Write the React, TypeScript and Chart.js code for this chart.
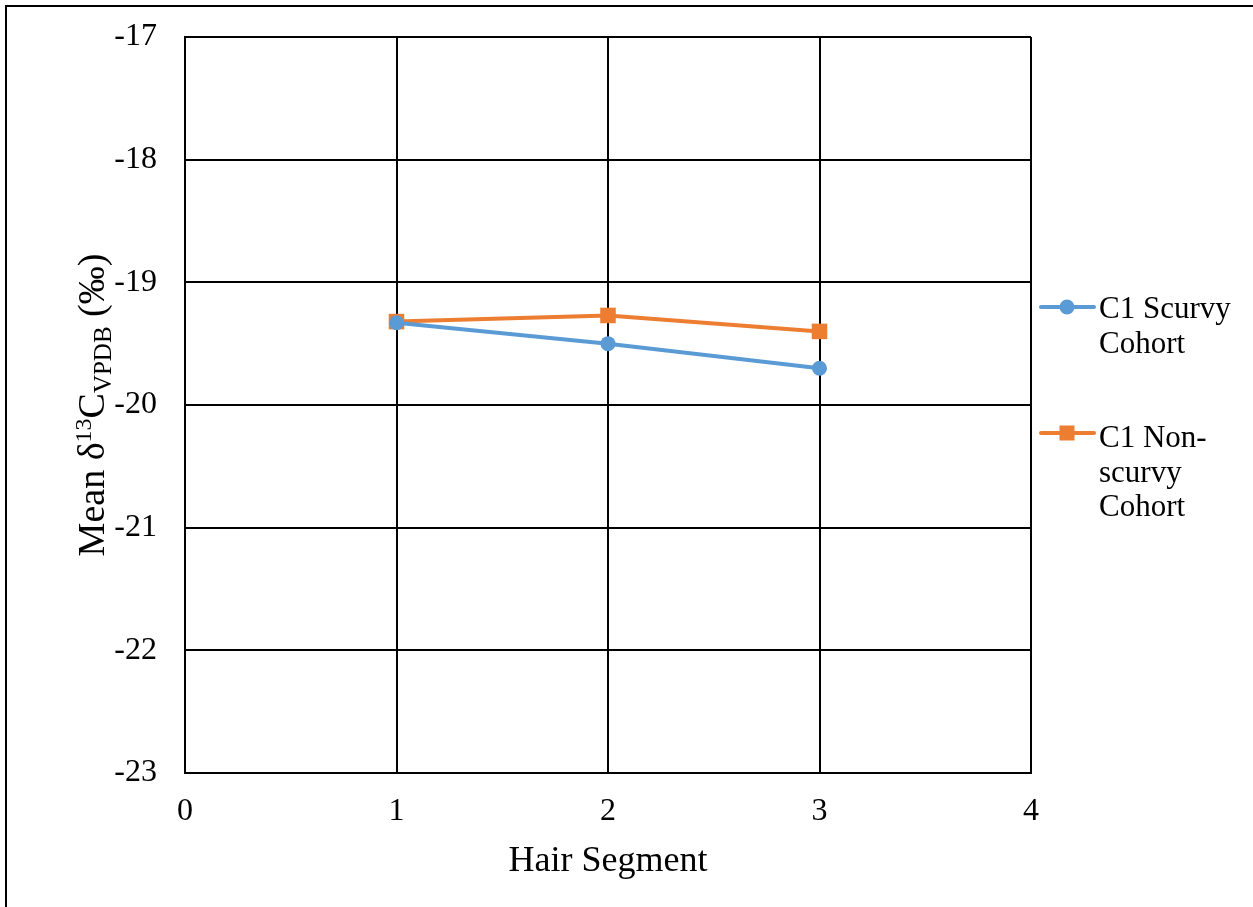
import React, { useEffect, useRef } from "react";
import { Chart, registerables } from "chart.js";

Chart.register(...registerables);

// Hair segment positions and mean δ13C values (‰) for each cohort
const segments = [1, 2, 3];
const scurvyValues = [-19.33, -19.5, -19.7];
const nonScurvyValues = [-19.32, -19.27, -19.4];

const seriesNames = ["C1 Scurvy Cohort", "C1 Non-scurvy Cohort"];
const legendLines = [["C1 Scurvy", "Cohort"], ["C1 Non-", "scurvy", "Cohort"]];
const xTitle = "Hair Segment";

const BLUE = "#5B9BD5";
const ORANGE = "#ED7D31";
const SERIF = "'Liberation Serif', 'Times New Roman', serif";

const W = 1253;
const H = 907;

const decorPlugin = {
  id: "decor",
  beforeDraw(chart: any) {
    const ctx = chart.ctx;
    ctx.save();
    ctx.fillStyle = "#ffffff";
    ctx.fillRect(0, 0, chart.width, chart.height);
    ctx.restore();
  },
  afterDraw(chart: any) {
    const ctx = chart.ctx;
    const area = chart.chartArea;
    ctx.save();

    // outer frame (top and left edges)
    ctx.strokeStyle = "#000";
    ctx.lineWidth = 2;
    ctx.beginPath();
    ctx.moveTo(W, 6);
    ctx.lineTo(6, 6);
    ctx.lineTo(6, H);
    ctx.stroke();

    // x-axis title
    ctx.fillStyle = "#000";
    ctx.font = `36px ${SERIF}`;
    ctx.textAlign = "center";
    ctx.textBaseline = "alphabetic";
    ctx.fillText(xTitle, (area.left + area.right) / 2, 871);

    // y-axis title with superscript and subscript parts
    const parts = [
      { t: "Mean δ", size: 38, dy: 0 },
      { t: "13", size: 24, dy: -13 },
      { t: "C", size: 38, dy: 0 },
      { t: "VPDB", size: 25, dy: 7 },
      { t: " (‰)", size: 38, dy: 0 },
    ];
    let total = 0;
    for (const p of parts) {
      ctx.font = `${p.size}px ${SERIF}`;
      total += ctx.measureText(p.t).width;
    }
    ctx.translate(104, (area.top + area.bottom) / 2);
    ctx.rotate(-Math.PI / 2);
    ctx.textAlign = "left";
    let x = -total / 2;
    for (const p of parts) {
      ctx.font = `${p.size}px ${SERIF}`;
      ctx.fillText(p.t, x, p.dy);
      x += ctx.measureText(p.t).width;
    }
    ctx.setTransform(1, 0, 0, 1, 0, 0);

    // legend
    const items = [
      { color: BLUE, style: "circle", y: 307, lines: legendLines[0], textTop: 318 },
      { color: ORANGE, style: "rect", y: 433, lines: legendLines[1], textTop: 447 },
    ];
    ctx.font = `31px ${SERIF}`;
    ctx.textAlign = "left";
    ctx.textBaseline = "alphabetic";
    for (const it of items) {
      ctx.strokeStyle = it.color;
      ctx.lineWidth = 4;
      ctx.lineCap = "round";
      ctx.beginPath();
      ctx.moveTo(1041, it.y);
      ctx.lineTo(1094, it.y);
      ctx.stroke();
      ctx.fillStyle = it.color;
      if (it.style === "circle") {
        ctx.beginPath();
        ctx.arc(1067, it.y, 7.5, 0, Math.PI * 2);
        ctx.fill();
      } else {
        ctx.fillRect(1067 - 7.5, it.y - 7.5, 15, 15);
      }
      ctx.fillStyle = "#000";
      it.lines.forEach((ln, i) => {
        ctx.fillText(ln, 1099, it.textTop + i * 34.5);
      });
    }
    ctx.restore();
  },
};

export default function App() {
  const canvasRef = useRef<HTMLCanvasElement | null>(null);

  useEffect(() => {
    if (!canvasRef.current) return;
    const chart = new Chart(canvasRef.current, {
      type: "line",
      data: {
        datasets: [
          {
            label: seriesNames[0],
            data: segments.map((s, i) => ({ x: s, y: scurvyValues[i] })),
            borderColor: BLUE,
            backgroundColor: BLUE,
            borderWidth: 4,
            pointStyle: "circle",
            pointRadius: 7.5,
            pointBorderWidth: 0,
          },
          {
            label: seriesNames[1],
            data: segments.map((s, i) => ({ x: s, y: nonScurvyValues[i] })),
            borderColor: ORANGE,
            backgroundColor: ORANGE,
            borderWidth: 4,
            pointStyle: "rect",
            pointRadius: 11,
            pointBorderWidth: 0,
          },
        ],
      },
      options: {
        responsive: false,
        animation: false,
        layout: { padding: { top: 37, right: 222, left: 0, bottom: 0 } },
        plugins: {
          legend: { display: false },
          tooltip: { enabled: false },
        },
        scales: {
          x: {
            type: "linear",
            min: 0,
            max: 4,
            ticks: {
              stepSize: 1,
              color: "#000",
              padding: 19,
              font: { family: SERIF, size: 32 },
            },
            grid: { color: "#000", lineWidth: 2, drawTicks: false },
            border: { color: "#000", width: 2 },
            afterFit: (scale: any) => {
              scale.height = 134;
              scale.paddingLeft = 0;
              scale.paddingRight = 0;
            },
          },
          y: {
            type: "linear",
            min: -23,
            max: -17,
            ticks: {
              stepSize: 1,
              color: "#000",
              padding: 28,
              font: { family: SERIF, size: 32 },
            },
            grid: { color: "#000", lineWidth: 2, drawTicks: false },
            border: { color: "#000", width: 2 },
            afterFit: (scale: any) => {
              scale.width = 185;
              scale.paddingTop = 0;
              scale.paddingBottom = 0;
            },
          },
        },
      },
      plugins: [decorPlugin],
    });
    return () => chart.destroy();
  }, []);

  return (
    <div style={{ position: "absolute", left: 0, top: 0, width: W, height: H }}>
      <canvas ref={canvasRef} width={W} height={H} style={{ width: W, height: H, display: "block" }} />
    </div>
  );
}
